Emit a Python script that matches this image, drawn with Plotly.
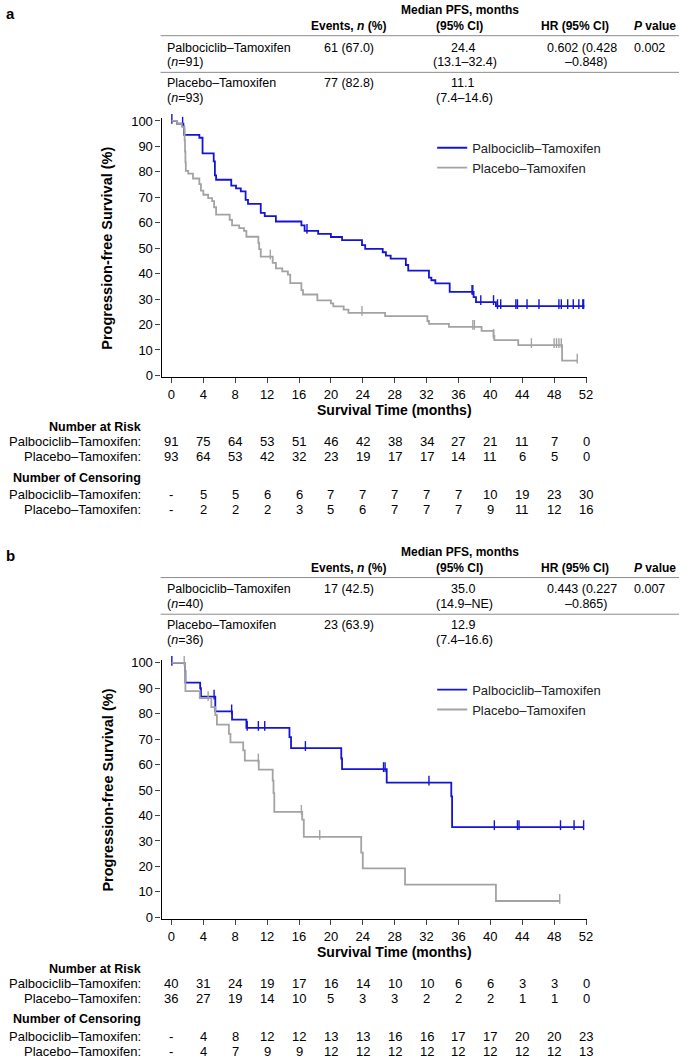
import plotly.graph_objects as go

# figure size in px, everything below is placed on this grid
W, H = 685, 1063

months = [0, 4, 8, 12, 16, 20, 24, 28, 32, 36, 40, 44, 48, 52]
arms = ["Palbociclib–Tamoxifen", "Placebo–Tamoxifen"]

# ---- panel a: summary table
a_n = [91, 93]
a_events = ["61 (67.0)", "77 (82.8)"]
a_median = ["24.4", "11.1"]
a_ci = ["(13.1–32.4)", "(7.4–14.6)"]
a_hr = ["0.602 (0.428", "–0.848)"]
a_p = "0.002"

# ---- panel b: summary table
b_n = [40, 36]
b_events = ["17 (42.5)", "23 (63.9)"]
b_median = ["35.0", "12.9"]
b_ci = ["(14.9–NE)", "(7.4–16.6)"]
b_hr = ["0.443 (0.227", "–0.865)"]
b_p = "0.007"

# ---- KM curves, panel a
a_palbo_t = [0, 0.7, 1.5, 1.6, 3.5, 3.9, 5.3, 5.45, 5.6, 7.5, 8.1, 8.7, 9.3, 9.6, 11.2, 11.7, 13.1,
             16.3, 16.7, 18.4, 20.0, 21.4, 23.9, 24.3, 26.5, 26.9, 27.5, 29.4, 29.7, 32.3, 32.6, 33.1,
             34.9, 37.9, 38.2, 40.7, 51.8]
a_palbo_s = [100, 98.9, 97.8, 94.5, 93.4, 87.3, 84.1, 78.6, 76.9, 74.6, 73.5, 72.3, 69.0, 67.4, 63.9, 62.6, 60.5,
             59.0, 56.8, 55.6, 54.4, 53.2, 51.2, 49.7, 48.4, 47.1, 45.9, 43.4, 41.2, 38.4, 37.4, 36.2,
             32.8, 30.8, 28.8, 27.2, 27.2]
a_palbo_cens = [0.05, 1.4, 17.0, 37.7, 37.8, 38.8, 40.4, 40.9, 41.3, 43.2, 43.4, 44.6, 46.1,
                48.6, 48.9, 49.7, 50.4, 51.1, 51.6, 51.7]

a_plac_t = [0, 0.7, 1.3, 1.6, 1.65, 1.7, 1.75, 1.8, 2.1, 2.7, 3.5, 3.7, 4.0, 4.6, 5.1, 5.35, 5.6, 7.3, 7.6,
            8.5, 9.1, 9.4, 10.9, 11.0, 11.2, 12.7, 13.1, 13.9, 14.6, 14.9, 16.3, 16.5, 18.3, 20.0, 20.3,
            21.6, 22.2, 26.8, 32.1, 32.3, 34.8, 38.9, 40.4, 40.5, 43.5, 49.0, 50.9]
a_plac_s = [100, 98.9, 97.8, 96.7, 92.4, 88.0, 83.7, 80.4, 79.3, 77.4, 75.2, 72.6, 71.0, 69.7, 68.5, 66.1, 63.2,
            61.1, 59.0, 57.9, 56.8, 54.5, 52.1, 49.6, 46.7, 44.2, 42.1, 40.9, 39.6, 36.3, 33.5, 31.8, 29.5,
            28.3, 27.1, 25.9, 24.6, 23.3, 21.4, 20.3, 19.1, 17.5, 15.5, 13.9, 11.9, 5.8, 5.8]
a_plac_cens = [12.4, 23.9, 37.8, 38.0, 40.4, 45.15, 48.0, 48.3, 48.6, 48.9, 50.9]

# ---- KM curves, panel b
b_palbo_t = [0, 1.7, 1.75, 3.6, 3.7, 5.5, 7.6, 9.4, 14.8, 15.0, 21.3, 21.4, 27.0, 35.1, 35.2, 51.7]
b_palbo_s = [100, 96.8, 92.2, 90.0, 86.7, 80.9, 77.7, 74.4, 70.8, 66.5, 62.4, 58.2, 52.9, 47.5, 35.4, 35.4]
b_palbo_cens = [0.05, 5.35, 7.55, 9.5, 10.9, 11.7, 16.8, 26.6, 26.8, 32.3, 40.5, 43.4, 43.6, 48.8, 50.5, 51.7]

b_plac_t = [0, 1.7, 1.75, 3.55, 5.0, 5.5, 5.7, 7.2, 7.4, 9.0, 9.2, 10.95, 12.7, 12.8, 12.9, 16.4, 16.6,
            23.8, 24.0, 29.3, 40.7, 48.7]
b_plac_s = [100, 94.4, 88.9, 86.1, 82.6, 79.5, 75.7, 72.1, 68.7, 65.6, 61.6, 58.0, 53.7, 48.8, 41.4, 38.4, 31.6,
            25.4, 19.2, 12.8, 6.4, 6.4]
b_plac_cens = [1.6, 4.6, 10.9, 16.3, 18.6, 48.7]

# ---- number at risk / censoring
a_risk_palbo = [91, 75, 64, 53, 51, 46, 42, 38, 34, 27, 21, 11, 7, 0]
a_risk_plac = [93, 64, 53, 42, 32, 23, 19, 17, 17, 14, 11, 6, 5, 0]
a_cens_palbo = ["-", 5, 5, 6, 6, 7, 7, 7, 7, 7, 10, 19, 23, 30]
a_cens_plac = ["-", 2, 2, 2, 3, 5, 6, 7, 7, 7, 9, 11, 12, 16]
b_risk_palbo = [40, 31, 24, 19, 17, 16, 14, 10, 10, 6, 6, 3, 3, 0]
b_risk_plac = [36, 27, 19, 14, 10, 5, 3, 3, 2, 2, 2, 1, 1, 0]
b_cens_palbo = ["-", 4, 8, 12, 12, 13, 13, 16, 16, 17, 17, 20, 20, 23]
b_cens_plac = ["-", 4, 7, 9, 9, 12, 12, 12, 12, 12, 12, 12, 12, 13]

BLUE = "#1414d8"
GRAY = "#a3a3a3"
NARROW = "Liberation Sans Narrow, Arial Narrow, Liberation Sans, Arial, sans-serif"
SANS = "Liberation Sans, Arial, sans-serif"


def px(x):
    return x / W


def py(y):
    return 1 - y / H


def surv_at(ts, ss, t):
    # level of the step curve at time t
    idx = max(i for i, v in enumerate(ts) if v <= t)
    return ss[idx]


panels = [
    dict(label="a", off=0, n=a_n, events=a_events, median=a_median, ci=a_ci, hr=a_hr, p=a_p,
         curves=[(a_palbo_t, a_palbo_s, a_palbo_cens, BLUE), (a_plac_t, a_plac_s, a_plac_cens, GRAY)],
         risk=[a_risk_palbo, a_risk_plac], cens=[a_cens_palbo, a_cens_plac]),
    dict(label="b", off=547, n=b_n, events=b_events, median=b_median, ci=b_ci, hr=b_hr, p=b_p,
         curves=[(b_palbo_t, b_palbo_s, b_palbo_cens, BLUE), (b_plac_t, b_plac_s, b_plac_cens, GRAY)],
         risk=[b_risk_palbo, b_risk_plac], cens=[b_cens_palbo, b_cens_plac]),
]

fig = go.Figure()
annotations = []
shapes = []


def txt(x, y, text, size=12.5, anchor="center", bold=False, family=NARROW, **kw):
    if bold:
        text = "<b>" + text + "</b>"
    d = dict(x=px(x), y=py(y), xref="paper", yref="paper", text=text, showarrow=False,
             xanchor=anchor, yanchor="middle", font=dict(size=size, family=family, color="black"))
    d.update(kw)
    annotations.append(d)


for k, p in enumerate(panels):
    o = p["off"]
    sfx = "" if k == 0 else str(k + 1)
    xname, yname = "x" + sfx, "y" + sfx

    # curves + censor ticks
    for j, (ts, ss, cens, col) in enumerate(p["curves"]):
        fig.add_trace(go.Scatter(
            x=ts, y=ss, mode="lines", line=dict(shape="hv", color=col, width=1.8),
            name=arms[j], xaxis=xname, yaxis=yname, legend="legend" + sfx, cliponaxis=False))
        fig.add_trace(go.Scatter(
            x=cens, y=[surv_at(ts, ss, c) + 0.8 for c in cens], mode="markers",
            marker=dict(symbol="line-ns", size=7, line=dict(color=col, width=1.4)),
            showlegend=False, xaxis=xname, yaxis=yname, cliponaxis=False))

    fig.update_layout(**{
        "xaxis" + sfx: dict(domain=[px(163), px(592)], range=[-1.24, 52.1], tickvals=months,
                            ticks="outside", ticklen=5, tickwidth=1.2, showline=True, linecolor="black",
                            linewidth=1.2, showgrid=False, zeroline=False, anchor=yname,
                            tickfont=dict(size=13, family=NARROW, color="black")),
        "yaxis" + sfx: dict(domain=[py(376.5 + o), py(115 + o)], range=[-0.6, 101.2],
                            tickvals=list(range(0, 101, 10)), ticks="outside", ticklen=5, tickwidth=1.2,
                            showline=True, linecolor="black", linewidth=1.2, showgrid=False,
                            zeroline=False, anchor=xname,
                            tickfont=dict(size=13, family=NARROW, color="black")),
        "legend" + sfx: dict(x=px(436), y=py(130 + o), xanchor="left", yanchor="top",
                             font=dict(size=13, family=SANS, color="#222"), bgcolor="rgba(0,0,0,0)",
                             tracegroupgap=0, itemwidth=30),
    })

    # panel letter
    txt(4, 10 + o, p["label"], size=15, anchor="left", bold=True, family=SANS)

    # summary table
    txt(464, 6 + o, "Median PFS, months", size=12, bold=True)
    txt(352, 22 + o, "Events, <i>n</i> (%)", size=12, bold=True)
    txt(464, 22 + o, "(95% CI)", size=12, bold=True)
    txt(580, 22 + o, "HR (95% CI)", size=12, bold=True)
    txt(684, 22 + o, "<i>P</i> value", size=12, bold=True, anchor="right")
    for j in range(2):
        y1 = 44 + o + j * 36
        txt(166, y1, arms[j], anchor="left")
        txt(166, y1 + 15, "(<i>n</i>=%d)" % p["n"][j], anchor="left")
        txt(352, y1, p["events"][j])
        txt(467, y1, p["median"][j])
        txt(469, y1 + 15, p["ci"][j])
    txt(550, 44 + o, p["hr"][0], anchor="left")
    txt(568, 59 + o, p["hr"][1], anchor="left")
    txt(655, 44 + o, p["p"])
    for yl in (32, 69):
        shapes.append(dict(type="line", xref="paper", yref="paper", x0=px(162), x1=1,
                           y0=py(yl + o), y1=py(yl + o), line=dict(color="#8c8c8c", width=1)))

    # axis titles
    txt(108, 247 + o, "Progression-free Survival (%)", size=14.5, bold=True, family=SANS, textangle=-90)
    txt(398, 410 + o, "Survival Time (months)", size=14, bold=True, family=NARROW)

    # number at risk / censoring
    txt(144, 427 + o, "Number at Risk", size=12.5, anchor="right", bold=True)
    txt(144, 478 + o, "Number of Censoring", size=12.5, anchor="right", bold=True)
    for j in range(2):
        txt(144, 442 + o + 15 * j, arms[j] + ":", size=13, anchor="right")
        txt(144, 495 + o + 15 * j, arms[j] + ":", size=13, anchor="right")
        for m, r, c in zip(months, p["risk"][j], p["cens"][j]):
            for yy, val in ((442 + 15 * j, r), (495 + 15 * j, c)):
                annotations.append(dict(x=m, xref=xname, y=py(yy + o), yref="paper", text=str(val),
                                        showarrow=False, xanchor="center", yanchor="middle",
                                        font=dict(size=13, family=NARROW, color="black")))

fig.update_layout(
    width=W, height=H, autosize=False,
    margin=dict(l=0, r=0, t=0, b=0),
    paper_bgcolor="white", plot_bgcolor="white",
    annotations=annotations, shapes=shapes,
)

# drop the browser's default 8px body margin so the figure sits at the page corner
fig.write_html("out.html", config={"displayModeBar": False},
               post_script="document.body.style.margin='0';document.body.style.overflow='hidden';")
